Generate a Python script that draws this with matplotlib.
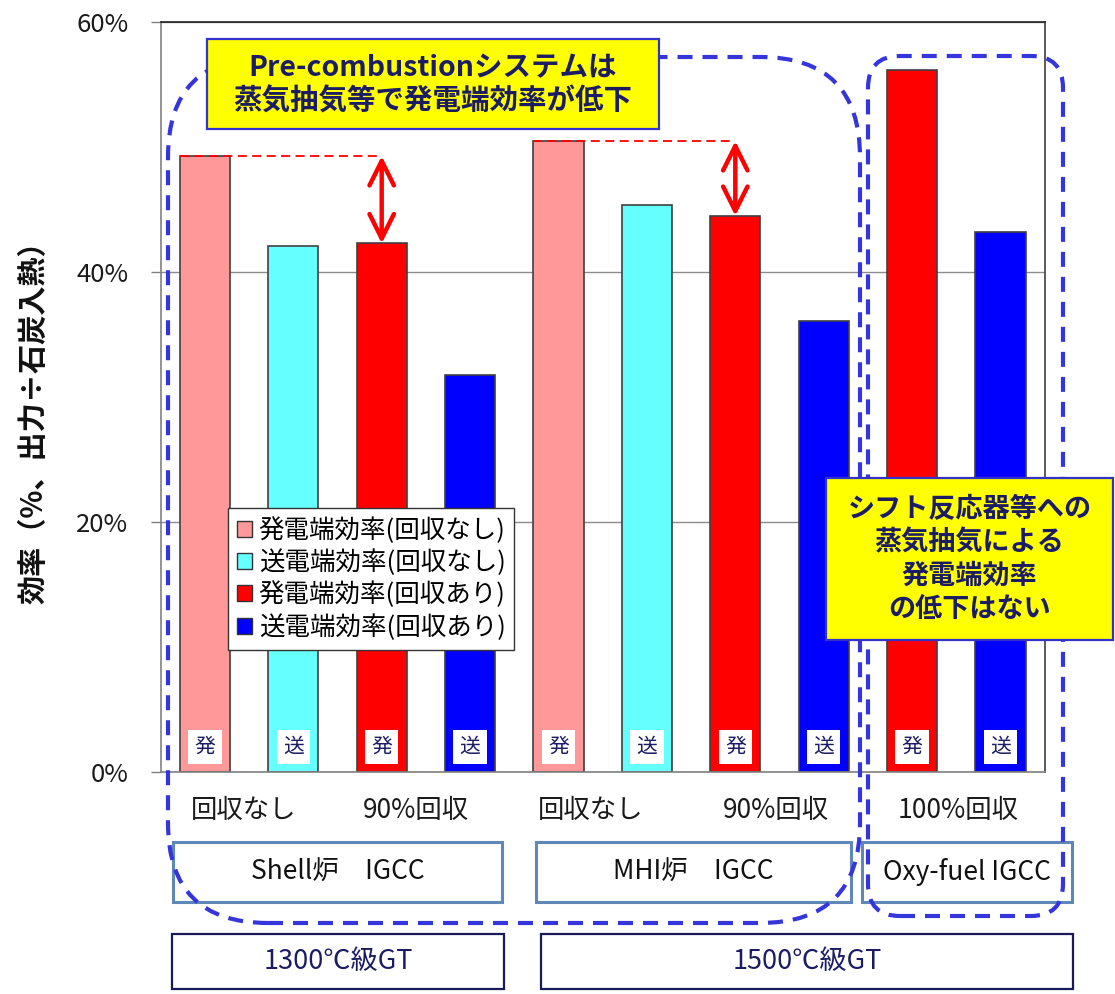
import matplotlib.pyplot as plt
from matplotlib.patches import Rectangle, FancyBboxPatch, Patch

plt.rcParams['font.family'] = ['Noto Sans CJK JP', 'DejaVu Sans']

# 効率データ（%）
series_names = ['発電端効率(回収なし)', '送電端効率(回収なし)',
                '発電端効率(回収あり)', '送電端効率(回収あり)']
series_colors = ['#FF9999', '#66FFFF', '#FF0000', '#0000FF']
bar_values = [49.3, 42.1, 42.3, 31.8, 50.5, 45.4, 44.5, 36.1, 56.2, 43.2]
bar_series = [0, 1, 2, 3, 0, 1, 2, 3, 2, 3]
bar_tags = ['発', '送', '発', '送', '発', '送', '発', '送', '発', '送']
capture_labels = ['回収なし', '90%回収', '回収なし', '90%回収', '100%回収']
capture_pos = [0.44, 2.39, 4.36, 6.46, 8.52]
plant_labels = ['Shell炉\u3000IGCC', 'MHI炉\u3000IGCC', 'Oxy-fuel IGCC']
gt_labels = ['1300℃級GT', '1500℃級GT']
yticks = [0, 20, 40, 60]

W, H = 1115, 994
NAVY = '#1C1C64'
DASH_BLUE = '#3535DC'

fig = plt.figure(figsize=(W / 100, H / 100), dpi=100)
ax = fig.add_axes([160.7 / W, 1 - 772 / H, 884 / W, (772 - 22.3) / H])

x = list(range(len(bar_values)))
bw = 0.566
ax.bar(x, bar_values, width=bw, color=[series_colors[s] for s in bar_series],
       edgecolor='#404040', linewidth=1.2, zorder=2)

ax.set_xlim(-0.5, len(bar_values) - 0.5)
ax.set_ylim(0, 60)
ax.set_xticks([])
ax.set_yticks(yticks)
ax.set_yticklabels([f'{v}%' for v in yticks])
ax.tick_params(axis='y', length=7.2, width=1, color='#808080', pad=16,
               labelsize=18.5, labelcolor='#1a1a1a')
ax.yaxis.grid(True, color='#8c8c8c', linewidth=1)
ax.set_axisbelow(True)
for side, col in [('left', '#808080'), ('bottom', '#808080'),
                  ('top', '#202020'), ('right', '#404040')]:
    ax.spines[side].set_color(col)
    ax.spines[side].set_linewidth(1.2)

# 棒の下部の「発」「送」ラベル
for i, tag in enumerate(bar_tags):
    ax.text(i, 2.0, tag, ha='center', va='center', fontsize=15, color=NAVY,
            bbox=dict(boxstyle='square,pad=0.3', fc='white', ec='none'), zorder=3)

# 回収条件ラベル
for pos, lab in zip(capture_pos, capture_labels):
    ax.text(pos, -3.1, lab, ha='center', va='center', fontsize=19, color='#1a1a1a')

# 発電端効率の低下を示す破線と矢印
for a, b in [(0, 2), (4, 6)]:
    ax.plot([a - bw / 2, b], [bar_values[a], bar_values[a]], color='red', lw=1.3,
            ls=(0, (5, 3)), zorder=4)
    ax.annotate('', xy=(b, bar_values[a]), xytext=(b, bar_values[b]),
                arrowprops=dict(arrowstyle='<->', color='red', lw=3.2,
                                mutation_scale=44, shrinkA=0, shrinkB=0),
                zorder=5)

handles = [Patch(facecolor=c, edgecolor='#333333', linewidth=1) for c in series_colors]
leg = ax.legend(handles, series_names, loc='upper left',
                bbox_to_anchor=(2.28, (H - 508) / 100),
                bbox_transform=fig.dpi_scale_trans, borderaxespad=0,
                fontsize=18.4, frameon=True, fancybox=False, framealpha=1,
                edgecolor='#333333', handlelength=0.6, handleheight=0.6,
                handletextpad=0.25, labelspacing=0.22, borderpad=0.35)
leg.get_frame().set_linewidth(1)
leg.set_zorder(6)

T = fig.dpi_scale_trans


def box(x0, y0, x1, y1, **kw):
    r = Rectangle((x0 / 100, (H - y1) / 100), (x1 - x0) / 100, (y1 - y0) / 100,
                  transform=T, **kw)
    fig.add_artist(r)


def label(xc, yc, s, **kw):
    fig.text(xc / 100, (H - yc) / 100, s, transform=T, ha='center', va='center', **kw)


# 破線の囲み
for (x0, y0, x1, y1, rad) in [(168, 57, 860, 923, 1.0), (868, 56, 1063, 916, 0.32)]:
    p = FancyBboxPatch((x0 / 100, (H - y1) / 100), (x1 - x0) / 100, (y1 - y0) / 100,
                       boxstyle=f'round,pad=0,rounding_size={rad}', transform=T,
                       fill=False, edgecolor=DASH_BLUE, lw=3, ls=(0, (3.6, 2.4)),
                       zorder=4)
    fig.add_artist(p)

# 炉の種類
for (x0, x1), lab in zip([(173, 502), (536, 851), (862, 1072)], plant_labels):
    box(x0, 842, x1, 902, fill=False, ec='#5F88B8', lw=2.2, zorder=3)
    label((x0 + x1) / 2, 872, lab, fontsize=19, color='#111111', zorder=3)

# GT温度クラス
for (x0, x1), lab in zip([(172, 504), (541, 1073)], gt_labels):
    box(x0, 934, x1, 989, fill=False, ec='#1A1A5A', lw=1.6, zorder=3)
    label((x0 + x1) / 2, 961.5, lab, fontsize=19.5, color=NAVY, zorder=3)

# 注記ボックス
box(207, 39, 659, 129, fc='#FFFF00', ec='#3333CC', lw=1.6, zorder=5)
label(433, 85, 'Pre-combustionシステムは\n蒸気抽気等で発電端効率が低下',
      fontsize=20.5, fontweight='bold', color=NAVY, linespacing=1.25, zorder=6)
box(826, 478, 1113, 640, fc='#FFFF00', ec='#3333CC', lw=1.6, zorder=5)
label(969.5, 559, 'シフト反応器等への\n蒸気抽気による\n発電端効率\nの低下はない',
      fontsize=19.5, fontweight='bold', color=NAVY, linespacing=1.25, zorder=6)

fig.text(33 / W, 1 - 415 / H, '効率（%、出力÷石炭入熱）', rotation=90,
         ha='center', va='center', fontsize=21, fontweight='bold', color='#111111')

fig.savefig('out.png', dpi=100)
